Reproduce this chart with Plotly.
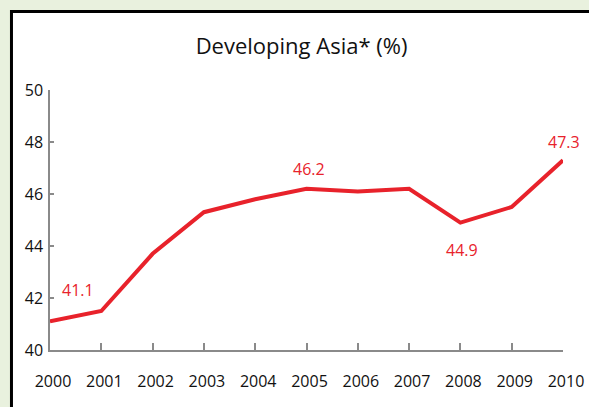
import plotly.graph_objects as go

years = [2000, 2001, 2002, 2003, 2004, 2005, 2006, 2007, 2008, 2009, 2010]
share = [41.1, 41.5, 43.7, 45.3, 45.8, 46.2, 46.1, 46.2, 44.9, 45.5, 47.3]
label_years = [2000, 2005, 2008, 2010]
label_shift = [(28, 31), (2, 20), (2, -27), (1, 18)]
y_ticks = [40, 42, 44, 46, 48, 50]

RED = "#e8222b"
GRAY = "#8a8a8a"
FONT = "Open Sans"

fig = go.Figure()
fig.add_trace(go.Scatter(x=years, y=share, mode="lines",
                         line=dict(color=RED, width=4), cliponaxis=False,
                         hoverinfo="skip"))

annotations = []
for yr, (dx, dy) in zip(label_years, label_shift):
    v = share[years.index(yr)]
    annotations.append(dict(x=yr, y=v, xref="x", yref="y", text=f"{v:.1f}",
                            showarrow=False, xshift=dx, yshift=dy,
                            font=dict(family=FONT, size=16, color=RED)))

fig.update_layout(
    width=589, height=407,
    margin=dict(l=50, r=26, t=90, b=57, autoexpand=False),
    paper_bgcolor="#e9f1de",
    plot_bgcolor="rgba(0,0,0,0)",
    showlegend=False,
    title=dict(text="Developing Asia* (%)", x=0.512, xanchor="center",
               y=0.887, yanchor="middle",
               font=dict(family=FONT, size=22, color="#111")),
    annotations=annotations,
    shapes=[dict(type="rect", xref="paper", yref="paper", layer="below",
                 x0=-0.0751, x1=1.3, y0=-0.6, y1=1.3015,
                 line=dict(color="#000", width=3), fillcolor="#ffffff")],
    xaxis=dict(range=[2000, 2010], tickvals=years, ticktext=[str(y) for y in years],
               automargin=False,
               showgrid=False, zeroline=False, showline=True, linecolor=GRAY,
               linewidth=1.5, ticks="inside", ticklen=7, tickcolor=GRAY,
               tickwidth=1.5, ticklabelstandoff=16, ticklabelshift=3,
               tickfont=dict(family=FONT, size=16, color="#111")),
    yaxis=dict(range=[40, 50], tickvals=y_ticks, showgrid=False, zeroline=False,
               automargin=False,
               showline=True, linecolor=GRAY, linewidth=1.5, ticks="inside",
               ticklen=4, tickcolor=GRAY, tickwidth=1.5, ticklabelstandoff=2,
               tickfont=dict(family=FONT, size=16, color="#111")),
)

fig.write_html("out.html", config={"displayModeBar": False},
               post_script="document.body.style.margin='0';"
                           "document.body.style.overflow='hidden';")
